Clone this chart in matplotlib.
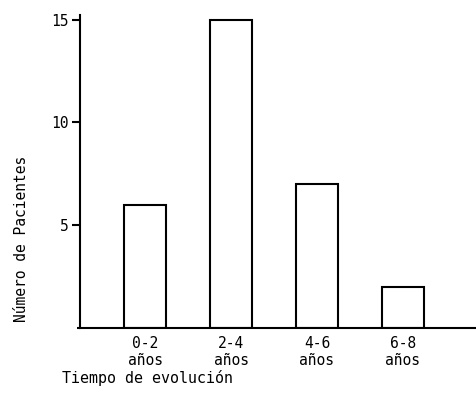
import numpy as np
import matplotlib.pyplot as plt

# data
categories = ['0-2\naños', '2-4\naños', '4-6\naños', '6-8\naños']
pacientes = [6, 15, 7, 2]
ytick_vals = [0, 5, 10, 15]
ytick_labels = ['', '5', '10', '15']

plt.rcParams['font.family'] = ['DejaVu Sans Mono']

fig = plt.figure(figsize=(4.77, 4.05), dpi=100)
ax = fig.add_axes([0.168, 0.190, 0.828, 0.773])

x = np.arange(len(categories))
ax.bar(x, pacientes, width=0.48, facecolor='white', edgecolor='black', linewidth=1.5)

ax.set_xlim(-0.756, 3.84)
ax.set_ylim(0, 15.22)

ax.set_xticks(x)
ax.set_xticklabels(categories, fontsize=10.5, linespacing=1.15)
ax.tick_params(axis='x', length=0, pad=6)
ax.set_yticks(ytick_vals)
ax.set_yticklabels(ytick_labels, fontsize=10.5)
ax.tick_params(axis='y', length=6, width=1.5, pad=2)
# the zero tick is only a small nub in the original
ax.yaxis.get_major_ticks()[0].tick1line.set_markersize(2)

for s in ['top', 'right']:
    ax.spines[s].set_visible(False)
for s in ['left', 'bottom']:
    ax.spines[s].set_linewidth(1.5)

fig.text(0.045, 0.41, 'Número de Pacientes', rotation=90, ha='center', va='center', fontsize=10.5)
fig.text(0.13, 0.067, 'Tiempo de evolución', ha='left', va='center', fontsize=10.8)

fig.savefig('out.png', dpi=100)
